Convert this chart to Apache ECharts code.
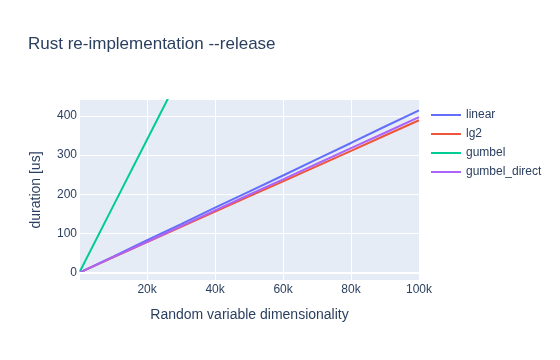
<!DOCTYPE html>
<html>
<head>
<meta charset="utf-8">
<script src="https://cdn.jsdelivr.net/npm/echarts@6/dist/echarts.min.js"></script>
<style>html,body{margin:0;padding:0;background:#fff}#c{width:560px;height:360px}</style>
</head>
<body>
<div id="c"></div>
<script>
const dims = [250, 10000, 20000, 30000, 40000, 50000, 60000, 70000, 80000, 90000, 100000];
const linear = [1, 41, 83, 124, 166, 207, 248, 290, 331, 373, 414];
const lg2 = [1, 39, 78, 117, 156, 195, 233, 272, 311, 350, 389];
const gumbel = [4, 170, 340, 510, 680, 850, 1020, 1190, 1360, 1530, 1700];
const gumbelDirect = [1, 40, 79, 119, 159, 199, 238, 278, 318, 357, 397];
const xTicks = [20000, 40000, 60000, 80000, 100000];
const yTicks = [0, 100, 200, 300, 400];

const seriesNames = ['linear', 'lg2', 'gumbel', 'gumbel_direct'];
const seriesValues = [linear, lg2, gumbel, gumbelDirect];
const colors = ['#636efa', '#EF553B', '#00cc96', '#ab63fa'];
const font = '"Liberation Sans", Arial, sans-serif';
const txt = '#2a3f5f';

const chart = echarts.init(document.getElementById('c'), null, {renderer: 'canvas'});
const series = seriesNames.map((n, i) => ({
  name: n, type: 'line', symbol: 'none', clip: true, z: 3,
  lineStyle: {width: 2, color: colors[i]}, itemStyle: {color: colors[i]},
  data: dims.map((d, j) => [d, seriesValues[i][j]])
}));
series.push({
  type: 'line', data: [], z: 1, silent: true,
  markLine: {silent: true, symbol: 'none', label: {show: false},
    lineStyle: {color: '#fff', width: 2, type: 'solid'},
    data: [{yAxis: 0}]}
});
chart.setOption({
  animation: false,
  color: colors,
  textStyle: {fontFamily: font},
  title: {text: 'Rust re-implementation --release', left: 23, top: 31,
    textStyle: {fontFamily: font, fontSize: 17, fontWeight: 'normal', color: txt}},
  legend: {orient: 'vertical', left: 426, top: 104, itemWidth: 30, itemHeight: 2, itemGap: 7,
    icon: 'rect', data: seriesNames,
    textStyle: {fontFamily: font, fontSize: 12, color: txt}},
  grid: {left: 80, right: 141, top: 100, bottom: 80, show: true, backgroundColor: '#E5ECF6', borderWidth: 0},
  xAxis: {type: 'value', min: 250, max: 100000,
    name: 'Random variable dimensionality', nameLocation: 'middle', nameGap: 28,
    nameTextStyle: {fontFamily: font, fontSize: 14, color: txt},
    axisLine: {show: false}, axisTick: {show: false, customValues: xTicks},
    axisLabel: {customValues: xTicks, margin: 4, fontSize: 12, color: txt, fontFamily: font,
      formatter: v => (v / 1000) + 'k'},
    splitLine: {show: true, lineStyle: {color: '#fff', width: 1}}},
  yAxis: {type: 'value', min: -18.5, max: 440.6,
    name: 'duration [us]', nameLocation: 'middle', nameGap: 37, nameRotate: 90,
    nameTextStyle: {fontFamily: font, fontSize: 14, color: txt},
    axisLine: {show: false}, axisTick: {show: false, customValues: yTicks},
    axisLabel: {customValues: yTicks, margin: 3, fontSize: 12, color: txt, fontFamily: font},
    splitLine: {show: true, lineStyle: {color: '#fff', width: 1}}},
  series: series
});
</script>
</body>
</html>
